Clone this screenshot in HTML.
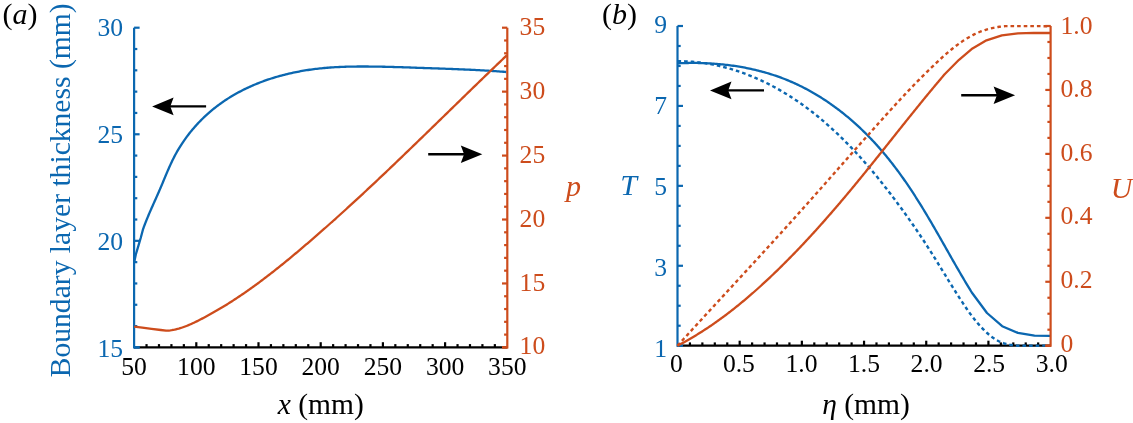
<!DOCTYPE html>
<html><head><meta charset="utf-8"><style>
html,body{margin:0;padding:0;background:#fff;width:1133px;height:423px;overflow:hidden}
svg{display:block;font-family:"Liberation Serif",serif;will-change:transform}
</style></head><body>
<svg width="1133" height="423" viewBox="0 0 1133 423">
<rect width="1133" height="423" fill="#fff"/>
<line x1="146.54" y1="347.40" x2="146.54" y2="344.10" stroke="#000" stroke-width="2.2"/>
<line x1="158.98" y1="347.40" x2="158.98" y2="344.10" stroke="#000" stroke-width="2.2"/>
<line x1="171.42" y1="347.40" x2="171.42" y2="344.10" stroke="#000" stroke-width="2.2"/>
<line x1="183.86" y1="347.40" x2="183.86" y2="344.10" stroke="#000" stroke-width="2.2"/>
<line x1="196.30" y1="347.40" x2="196.30" y2="342.20" stroke="#000" stroke-width="2.2"/>
<line x1="208.74" y1="347.40" x2="208.74" y2="344.10" stroke="#000" stroke-width="2.2"/>
<line x1="221.18" y1="347.40" x2="221.18" y2="344.10" stroke="#000" stroke-width="2.2"/>
<line x1="233.62" y1="347.40" x2="233.62" y2="344.10" stroke="#000" stroke-width="2.2"/>
<line x1="246.06" y1="347.40" x2="246.06" y2="344.10" stroke="#000" stroke-width="2.2"/>
<line x1="258.50" y1="347.40" x2="258.50" y2="342.20" stroke="#000" stroke-width="2.2"/>
<line x1="270.94" y1="347.40" x2="270.94" y2="344.10" stroke="#000" stroke-width="2.2"/>
<line x1="283.38" y1="347.40" x2="283.38" y2="344.10" stroke="#000" stroke-width="2.2"/>
<line x1="295.82" y1="347.40" x2="295.82" y2="344.10" stroke="#000" stroke-width="2.2"/>
<line x1="308.26" y1="347.40" x2="308.26" y2="344.10" stroke="#000" stroke-width="2.2"/>
<line x1="320.70" y1="347.40" x2="320.70" y2="342.20" stroke="#000" stroke-width="2.2"/>
<line x1="333.14" y1="347.40" x2="333.14" y2="344.10" stroke="#000" stroke-width="2.2"/>
<line x1="345.58" y1="347.40" x2="345.58" y2="344.10" stroke="#000" stroke-width="2.2"/>
<line x1="358.02" y1="347.40" x2="358.02" y2="344.10" stroke="#000" stroke-width="2.2"/>
<line x1="370.46" y1="347.40" x2="370.46" y2="344.10" stroke="#000" stroke-width="2.2"/>
<line x1="382.90" y1="347.40" x2="382.90" y2="342.20" stroke="#000" stroke-width="2.2"/>
<line x1="395.34" y1="347.40" x2="395.34" y2="344.10" stroke="#000" stroke-width="2.2"/>
<line x1="407.78" y1="347.40" x2="407.78" y2="344.10" stroke="#000" stroke-width="2.2"/>
<line x1="420.22" y1="347.40" x2="420.22" y2="344.10" stroke="#000" stroke-width="2.2"/>
<line x1="432.66" y1="347.40" x2="432.66" y2="344.10" stroke="#000" stroke-width="2.2"/>
<line x1="445.10" y1="347.40" x2="445.10" y2="342.20" stroke="#000" stroke-width="2.2"/>
<line x1="457.54" y1="347.40" x2="457.54" y2="344.10" stroke="#000" stroke-width="2.2"/>
<line x1="469.98" y1="347.40" x2="469.98" y2="344.10" stroke="#000" stroke-width="2.2"/>
<line x1="482.42" y1="347.40" x2="482.42" y2="344.10" stroke="#000" stroke-width="2.2"/>
<line x1="494.86" y1="347.40" x2="494.86" y2="344.10" stroke="#000" stroke-width="2.2"/>
<line x1="134.10" y1="347.40" x2="507.30" y2="347.40" stroke="#000" stroke-width="2.2"/>
<line x1="689.94" y1="345.70" x2="689.94" y2="342.40" stroke="#000" stroke-width="2.2"/>
<line x1="702.37" y1="345.70" x2="702.37" y2="342.40" stroke="#000" stroke-width="2.2"/>
<line x1="714.81" y1="345.70" x2="714.81" y2="342.40" stroke="#000" stroke-width="2.2"/>
<line x1="727.25" y1="345.70" x2="727.25" y2="342.40" stroke="#000" stroke-width="2.2"/>
<line x1="739.68" y1="345.70" x2="739.68" y2="340.70" stroke="#000" stroke-width="2.2"/>
<line x1="752.12" y1="345.70" x2="752.12" y2="342.40" stroke="#000" stroke-width="2.2"/>
<line x1="764.56" y1="345.70" x2="764.56" y2="342.40" stroke="#000" stroke-width="2.2"/>
<line x1="776.99" y1="345.70" x2="776.99" y2="342.40" stroke="#000" stroke-width="2.2"/>
<line x1="789.43" y1="345.70" x2="789.43" y2="342.40" stroke="#000" stroke-width="2.2"/>
<line x1="801.87" y1="345.70" x2="801.87" y2="340.70" stroke="#000" stroke-width="2.2"/>
<line x1="814.30" y1="345.70" x2="814.30" y2="342.40" stroke="#000" stroke-width="2.2"/>
<line x1="826.74" y1="345.70" x2="826.74" y2="342.40" stroke="#000" stroke-width="2.2"/>
<line x1="839.18" y1="345.70" x2="839.18" y2="342.40" stroke="#000" stroke-width="2.2"/>
<line x1="851.61" y1="345.70" x2="851.61" y2="342.40" stroke="#000" stroke-width="2.2"/>
<line x1="864.05" y1="345.70" x2="864.05" y2="340.70" stroke="#000" stroke-width="2.2"/>
<line x1="876.49" y1="345.70" x2="876.49" y2="342.40" stroke="#000" stroke-width="2.2"/>
<line x1="888.92" y1="345.70" x2="888.92" y2="342.40" stroke="#000" stroke-width="2.2"/>
<line x1="901.36" y1="345.70" x2="901.36" y2="342.40" stroke="#000" stroke-width="2.2"/>
<line x1="913.80" y1="345.70" x2="913.80" y2="342.40" stroke="#000" stroke-width="2.2"/>
<line x1="926.23" y1="345.70" x2="926.23" y2="340.70" stroke="#000" stroke-width="2.2"/>
<line x1="938.67" y1="345.70" x2="938.67" y2="342.40" stroke="#000" stroke-width="2.2"/>
<line x1="951.11" y1="345.70" x2="951.11" y2="342.40" stroke="#000" stroke-width="2.2"/>
<line x1="963.54" y1="345.70" x2="963.54" y2="342.40" stroke="#000" stroke-width="2.2"/>
<line x1="975.98" y1="345.70" x2="975.98" y2="342.40" stroke="#000" stroke-width="2.2"/>
<line x1="988.42" y1="345.70" x2="988.42" y2="340.70" stroke="#000" stroke-width="2.2"/>
<line x1="1000.85" y1="345.70" x2="1000.85" y2="342.40" stroke="#000" stroke-width="2.2"/>
<line x1="1013.29" y1="345.70" x2="1013.29" y2="342.40" stroke="#000" stroke-width="2.2"/>
<line x1="1025.73" y1="345.70" x2="1025.73" y2="342.40" stroke="#000" stroke-width="2.2"/>
<line x1="1038.16" y1="345.70" x2="1038.16" y2="342.40" stroke="#000" stroke-width="2.2"/>
<line x1="677.50" y1="345.70" x2="1050.60" y2="345.70" stroke="#000" stroke-width="2.2"/>
<line x1="134.10" y1="347.40" x2="139.60" y2="347.40" stroke="#0b67b0" stroke-width="2.2"/>
<line x1="134.10" y1="326.09" x2="137.30" y2="326.09" stroke="#0b67b0" stroke-width="2.2"/>
<line x1="134.10" y1="304.77" x2="137.30" y2="304.77" stroke="#0b67b0" stroke-width="2.2"/>
<line x1="134.10" y1="283.46" x2="137.30" y2="283.46" stroke="#0b67b0" stroke-width="2.2"/>
<line x1="134.10" y1="262.15" x2="137.30" y2="262.15" stroke="#0b67b0" stroke-width="2.2"/>
<line x1="134.10" y1="240.83" x2="139.60" y2="240.83" stroke="#0b67b0" stroke-width="2.2"/>
<line x1="134.10" y1="219.52" x2="137.30" y2="219.52" stroke="#0b67b0" stroke-width="2.2"/>
<line x1="134.10" y1="198.21" x2="137.30" y2="198.21" stroke="#0b67b0" stroke-width="2.2"/>
<line x1="134.10" y1="176.89" x2="137.30" y2="176.89" stroke="#0b67b0" stroke-width="2.2"/>
<line x1="134.10" y1="155.58" x2="137.30" y2="155.58" stroke="#0b67b0" stroke-width="2.2"/>
<line x1="134.10" y1="134.27" x2="139.60" y2="134.27" stroke="#0b67b0" stroke-width="2.2"/>
<line x1="134.10" y1="112.95" x2="137.30" y2="112.95" stroke="#0b67b0" stroke-width="2.2"/>
<line x1="134.10" y1="91.64" x2="137.30" y2="91.64" stroke="#0b67b0" stroke-width="2.2"/>
<line x1="134.10" y1="70.33" x2="137.30" y2="70.33" stroke="#0b67b0" stroke-width="2.2"/>
<line x1="134.10" y1="49.01" x2="137.30" y2="49.01" stroke="#0b67b0" stroke-width="2.2"/>
<line x1="134.10" y1="27.70" x2="139.60" y2="27.70" stroke="#0b67b0" stroke-width="2.2"/>
<line x1="134.10" y1="27.70" x2="134.10" y2="348.50" stroke="#0b67b0" stroke-width="2.2"/>
<line x1="134.10" y1="347.40" x2="139.60" y2="347.40" stroke="#0b67b0" stroke-width="2.2"/>
<line x1="677.50" y1="345.70" x2="683.00" y2="345.70" stroke="#0b67b0" stroke-width="2.2"/>
<line x1="677.50" y1="325.72" x2="680.70" y2="325.72" stroke="#0b67b0" stroke-width="2.2"/>
<line x1="677.50" y1="305.74" x2="680.70" y2="305.74" stroke="#0b67b0" stroke-width="2.2"/>
<line x1="677.50" y1="285.76" x2="680.70" y2="285.76" stroke="#0b67b0" stroke-width="2.2"/>
<line x1="677.50" y1="265.77" x2="683.00" y2="265.77" stroke="#0b67b0" stroke-width="2.2"/>
<line x1="677.50" y1="245.79" x2="680.70" y2="245.79" stroke="#0b67b0" stroke-width="2.2"/>
<line x1="677.50" y1="225.81" x2="680.70" y2="225.81" stroke="#0b67b0" stroke-width="2.2"/>
<line x1="677.50" y1="205.83" x2="680.70" y2="205.83" stroke="#0b67b0" stroke-width="2.2"/>
<line x1="677.50" y1="185.85" x2="683.00" y2="185.85" stroke="#0b67b0" stroke-width="2.2"/>
<line x1="677.50" y1="165.87" x2="680.70" y2="165.87" stroke="#0b67b0" stroke-width="2.2"/>
<line x1="677.50" y1="145.89" x2="680.70" y2="145.89" stroke="#0b67b0" stroke-width="2.2"/>
<line x1="677.50" y1="125.91" x2="680.70" y2="125.91" stroke="#0b67b0" stroke-width="2.2"/>
<line x1="677.50" y1="105.93" x2="683.00" y2="105.93" stroke="#0b67b0" stroke-width="2.2"/>
<line x1="677.50" y1="85.94" x2="680.70" y2="85.94" stroke="#0b67b0" stroke-width="2.2"/>
<line x1="677.50" y1="65.96" x2="680.70" y2="65.96" stroke="#0b67b0" stroke-width="2.2"/>
<line x1="677.50" y1="45.98" x2="680.70" y2="45.98" stroke="#0b67b0" stroke-width="2.2"/>
<line x1="677.50" y1="26.00" x2="683.00" y2="26.00" stroke="#0b67b0" stroke-width="2.2"/>
<line x1="677.50" y1="26.00" x2="677.50" y2="346.80" stroke="#0b67b0" stroke-width="2.2"/>
<line x1="677.50" y1="345.70" x2="683.00" y2="345.70" stroke="#0b67b0" stroke-width="2.2"/>
<path d="M134.20,262.30 L135.80,254.50 L138.30,246.20 L140.70,238.00 L142.90,229.70 L143.37,228.33 L143.86,226.97 L144.36,225.60 L144.88,224.23 L145.41,222.85 L145.95,221.48 L146.50,220.10 L147.06,218.71 L147.64,217.33 L148.22,215.94 L148.80,214.55 L149.40,213.16 L150.00,211.77 L150.61,210.37 L151.22,208.98 L151.84,207.58 L152.46,206.18 L153.08,204.78 L153.70,203.38 L154.33,201.98 L154.96,200.58 L155.58,199.18 L156.21,197.78 L156.83,196.38 L157.45,194.98 L158.07,193.58 L158.68,192.18 L159.29,190.79 L159.89,189.39 L160.49,187.99 L161.08,186.60 L161.67,185.21 L162.25,183.82 L162.84,182.43 L163.41,181.04 L163.99,179.66 L164.57,178.28 L165.14,176.90 L165.72,175.52 L166.30,174.15 L166.88,172.78 L167.47,171.41 L168.06,170.05 L168.65,168.69 L169.25,167.33 L169.86,165.98 L170.47,164.63 L171.10,163.29 L171.73,161.95 L172.37,160.62 L173.02,159.29 L173.68,157.96 L174.36,156.65 L175.04,155.33 L175.75,154.02 L176.46,152.72 L177.19,151.43 L177.94,150.14 L178.70,148.85 L179.47,147.57 L180.26,146.30 L181.07,145.04 L181.88,143.78 L182.71,142.53 L183.56,141.29 L184.41,140.05 L185.29,138.83 L186.17,137.61 L187.07,136.39 L187.98,135.19 L188.90,134.00 L189.83,132.81 L190.78,131.63 L191.74,130.46 L192.71,129.30 L193.69,128.15 L194.68,127.01 L195.69,125.88 L196.71,124.75 L197.73,123.64 L198.77,122.54 L199.82,121.45 L200.88,120.36 L201.95,119.29 L203.03,118.23 L204.12,117.18 L205.22,116.14 L206.33,115.12 L207.45,114.10 L208.58,113.10 L209.71,112.10 L210.86,111.12 L212.02,110.15 L213.18,109.20 L214.35,108.25 L215.53,107.32 L216.72,106.40 L217.92,105.50 L219.13,104.60 L220.34,103.72 L221.56,102.84 L222.79,101.98 L224.03,101.14 L225.27,100.30 L226.52,99.48 L227.78,98.66 L229.05,97.86 L230.32,97.07 L231.60,96.30 L232.89,95.53 L234.18,94.77 L235.48,94.03 L236.79,93.30 L238.10,92.58 L239.42,91.87 L240.75,91.17 L242.08,90.48 L243.42,89.81 L244.76,89.14 L246.11,88.49 L247.47,87.84 L248.83,87.21 L250.20,86.59 L251.57,85.98 L252.94,85.38 L254.33,84.79 L255.71,84.21 L257.11,83.64 L258.50,83.08 L259.90,82.53 L261.31,82.00 L262.72,81.47 L264.13,80.95 L265.55,80.45 L266.97,79.95 L268.40,79.46 L269.83,78.99 L271.27,78.52 L272.70,78.07 L274.15,77.62 L275.59,77.18 L277.04,76.76 L278.49,76.34 L279.94,75.93 L281.40,75.54 L282.86,75.15 L284.33,74.77 L285.79,74.40 L287.26,74.04 L288.73,73.70 L290.20,73.36 L291.68,73.02 L293.16,72.70 L294.64,72.39 L296.12,72.09 L297.60,71.79 L299.08,71.51 L300.57,71.23 L302.06,70.97 L303.55,70.71 L305.04,70.46 L306.53,70.22 L308.02,69.99 L309.51,69.76 L311.01,69.55 L312.50,69.34 L314.00,69.15 L315.49,68.96 L316.99,68.78 L318.48,68.61 L319.98,68.44 L321.48,68.29 L322.97,68.14 L324.47,68.00 L325.97,67.87 L327.46,67.74 L328.96,67.62 L330.46,67.51 L331.96,67.41 L333.46,67.31 L334.95,67.22 L336.45,67.13 L337.95,67.05 L339.45,66.98 L340.95,66.91 L342.45,66.85 L343.95,66.80 L345.45,66.75 L346.95,66.70 L348.45,66.66 L349.95,66.62 L351.45,66.59 L352.95,66.57 L354.46,66.55 L355.96,66.53 L357.46,66.51 L358.96,66.50 L360.46,66.50 L361.96,66.49 L363.47,66.50 L364.97,66.50 L366.47,66.51 L367.97,66.52 L369.48,66.53 L370.98,66.54 L372.48,66.56 L373.99,66.58 L375.49,66.60 L376.99,66.62 L378.50,66.65 L380.00,66.68 L381.50,66.71 L383.01,66.74 L384.51,66.77 L386.01,66.80 L387.52,66.84 L389.02,66.88 L390.53,66.92 L392.03,66.96 L393.54,67.00 L395.04,67.04 L396.55,67.08 L398.05,67.13 L399.55,67.18 L401.06,67.22 L402.56,67.27 L404.07,67.32 L405.57,67.37 L407.08,67.42 L408.58,67.47 L410.09,67.52 L411.59,67.57 L413.10,67.62 L414.60,67.68 L416.11,67.73 L417.61,67.78 L419.12,67.83 L420.62,67.89 L422.13,67.94 L423.64,67.99 L425.14,68.04 L426.65,68.10 L428.15,68.15 L429.66,68.20 L431.16,68.25 L432.67,68.30 L434.17,68.36 L435.68,68.41 L437.18,68.46 L438.69,68.51 L440.19,68.56 L441.70,68.62 L443.20,68.67 L444.70,68.72 L446.21,68.78 L447.71,68.83 L449.22,68.89 L450.72,68.94 L452.23,69.00 L453.73,69.06 L455.24,69.12 L456.74,69.17 L458.24,69.23 L459.75,69.30 L461.25,69.36 L462.76,69.42 L464.26,69.49 L465.76,69.55 L467.27,69.62 L468.77,69.69 L470.27,69.76 L471.78,69.83 L473.28,69.90 L474.78,69.97 L476.28,70.05 L477.79,70.13 L479.29,70.21 L480.79,70.29 L482.29,70.37 L483.79,70.46 L485.30,70.54 L486.80,70.63 L488.30,70.72 L489.80,70.82 L491.30,70.91 L492.80,71.01 L494.30,71.11 L495.80,71.21 L497.30,71.31 L498.80,71.42 L500.30,71.53 L501.80,71.64 L503.30,71.76 L504.80,71.88 L506.30,72.00" fill="none" stroke="#0b67b0" stroke-width="2.3" stroke-linejoin="round"/>
<path d="M677.50,61.20 L679.01,61.20 L680.51,61.21 L682.02,61.23 L683.52,61.27 L685.02,61.33 L686.53,61.39 L688.03,61.47 L689.52,61.56 L691.02,61.66 L692.52,61.78 L694.01,61.91 L695.50,62.05 L696.99,62.20 L698.48,62.37 L699.97,62.55 L701.45,62.74 L702.94,62.94 L704.42,63.15 L705.90,63.38 L707.38,63.62 L708.85,63.87 L710.33,64.13 L711.80,64.40 L713.27,64.69 L714.73,64.98 L716.20,65.29 L717.66,65.61 L719.12,65.94 L720.58,66.28 L722.03,66.63 L723.48,66.99 L724.93,67.37 L726.38,67.75 L727.83,68.15 L729.27,68.55 L730.71,68.97 L732.14,69.40 L733.58,69.83 L735.01,70.28 L736.43,70.74 L737.86,71.21 L739.28,71.69 L740.70,72.17 L742.11,72.67 L743.53,73.18 L744.93,73.70 L746.34,74.23 L747.74,74.77 L749.14,75.31 L750.53,75.87 L751.93,76.44 L753.31,77.01 L754.70,77.60 L756.08,78.19 L757.46,78.79 L758.83,79.41 L760.20,80.03 L761.57,80.66 L762.93,81.30 L764.29,81.95 L765.64,82.60 L766.99,83.27 L768.34,83.94 L769.68,84.62 L771.02,85.31 L772.35,86.01 L773.68,86.72 L775.00,87.43 L776.33,88.16 L777.64,88.89 L778.95,89.63 L780.26,90.37 L781.56,91.13 L782.86,91.89 L784.15,92.66 L785.44,93.44 L786.73,94.22 L788.01,95.01 L789.28,95.81 L790.55,96.62 L791.81,97.43 L793.07,98.25 L794.33,99.08 L795.58,99.92 L796.83,100.76 L798.07,101.61 L799.30,102.46 L800.54,103.32 L801.76,104.19 L802.98,105.07 L804.20,105.95 L805.42,106.83 L806.62,107.73 L807.83,108.63 L809.03,109.53 L810.22,110.44 L811.41,111.36 L812.60,112.28 L813.78,113.21 L814.95,114.15 L816.13,115.09 L817.29,116.03 L818.46,116.98 L819.62,117.94 L820.77,118.90 L821.92,119.87 L823.06,120.84 L824.20,121.82 L825.34,122.80 L826.47,123.79 L827.60,124.78 L828.72,125.78 L829.84,126.78 L830.96,127.78 L832.07,128.79 L833.17,129.81 L834.28,130.83 L835.37,131.85 L836.47,132.88 L837.56,133.91 L838.64,134.95 L839.72,135.99 L840.80,137.03 L841.87,138.08 L842.94,139.13 L844.00,140.18 L845.06,141.24 L846.12,142.30 L847.17,143.37 L848.22,144.44 L849.26,145.51 L850.30,146.59 L851.34,147.67 L852.37,148.75 L853.40,149.84 L854.42,150.93 L855.44,152.02 L856.46,153.12 L857.47,154.22 L858.48,155.32 L859.49,156.43 L860.49,157.54 L861.49,158.65 L862.49,159.77 L863.48,160.88 L864.47,162.01 L865.46,163.13 L866.44,164.26 L867.42,165.39 L868.40,166.52 L869.37,167.66 L870.34,168.80 L871.31,169.94 L872.27,171.09 L873.23,172.24 L874.19,173.39 L875.15,174.54 L876.10,175.70 L877.05,176.86 L878.00,178.02 L878.94,179.18 L879.88,180.35 L880.82,181.52 L881.76,182.69 L882.69,183.86 L883.62,185.04 L884.55,186.22 L885.48,187.40 L886.40,188.58 L887.32,189.77 L888.24,190.96 L889.16,192.15 L890.08,193.34 L890.99,194.54 L891.90,195.74 L892.81,196.93 L893.71,198.14 L894.62,199.34 L895.52,200.55 L896.42,201.75 L897.32,202.96 L898.22,204.17 L899.11,205.39 L900.00,206.60 L900.89,207.82 L901.78,209.04 L902.67,210.26 L903.55,211.48 L904.44,212.71 L905.32,213.93 L906.19,215.16 L907.07,216.39 L907.94,217.62 L908.81,218.85 L909.68,220.09 L910.55,221.32 L911.41,222.56 L912.27,223.80 L913.13,225.04 L913.99,226.28 L914.84,227.52 L915.69,228.77 L916.54,230.01 L917.39,231.26 L918.23,232.51 L919.07,233.76 L919.91,235.01 L920.75,236.26 L921.58,237.51 L922.41,238.76 L923.23,240.02 L924.06,241.28 L924.88,242.53 L925.70,243.79 L926.51,245.05 L927.33,246.31 L928.13,247.57 L928.94,248.83 L929.74,250.09 L930.54,251.36 L931.34,252.62 L932.14,253.88 L932.93,255.15 L933.72,256.41 L934.51,257.68 L935.30,258.95 L936.08,260.21 L936.87,261.48 L937.65,262.75 L938.43,264.02 L939.21,265.29 L939.99,266.56 L940.77,267.83 L941.55,269.10 L942.33,270.37 L943.11,271.64 L943.88,272.91 L944.66,274.19 L945.44,275.46 L946.22,276.73 L947.00,278.00 L947.79,279.27 L948.57,280.55 L949.36,281.82 L950.14,283.09 L950.93,284.36 L951.72,285.64 L952.51,286.91 L953.31,288.18 L954.10,289.45 L954.90,290.73 L955.71,292.00 L956.51,293.27 L957.32,294.54 L958.13,295.81 L958.95,297.08 L959.77,298.35 L960.59,299.62 L961.42,300.89 L962.25,302.16 L963.08,303.43 L963.93,304.69 L964.77,305.95 L965.63,307.21 L966.49,308.46 L967.36,309.71 L968.23,310.96 L969.11,312.20 L970.00,313.43 L970.91,314.65 L971.81,315.87 L972.73,317.08 L973.66,318.28 L974.60,319.46 L975.56,320.64 L976.52,321.81 L977.49,322.97 L978.48,324.11 L979.48,325.25 L980.49,326.36 L981.52,327.47 L982.56,328.56 L983.61,329.63 L984.68,330.69 L985.77,331.73 L986.87,332.76 L987.99,333.75 L989.12,334.73 L990.27,335.67 L991.44,336.58 L992.63,337.46 L993.84,338.30 L995.06,339.10 L996.30,339.85 L997.57,340.56 L998.85,341.22 L1000.16,341.83 L1001.48,342.39 L1002.83,342.89 L1004.19,343.35 L1005.57,343.77 L1006.97,344.13 L1008.38,344.46 L1009.81,344.75 L1011.25,345.00 L1012.70,345.22 L1014.17,345.40 L1015.65,345.55 L1017.14,345.68 L1018.63,345.70 L1020.14,345.70 L1021.65,345.70 L1023.17,345.70 L1024.70,345.70 L1026.23,345.70 L1027.76,345.70 L1029.30,345.70 L1030.84,345.70 L1032.38,345.70 L1033.92,345.70 L1035.46,345.70 L1036.99,345.70 L1038.53,345.69 L1040.06,345.65 L1041.59,345.62 L1043.11,345.60 L1044.62,345.59 L1046.13,345.59 L1047.63,345.61 L1049.12,345.64 L1050.60,345.70" fill="none" stroke="#0b67b0" stroke-width="2.4" stroke-linejoin="round" stroke-dasharray="3.6 3.0"/>
<path d="M677.49,63.31 L679.00,63.24 L680.51,63.18 L682.03,63.12 L683.54,63.08 L685.05,63.04 L686.56,63.00 L688.07,62.98 L689.59,62.96 L691.10,62.95 L692.61,62.94 L694.12,62.94 L695.64,62.96 L697.15,62.97 L698.66,63.00 L700.18,63.03 L701.69,63.07 L703.20,63.12 L704.71,63.18 L706.22,63.24 L707.73,63.31 L709.24,63.39 L710.75,63.48 L712.26,63.57 L713.76,63.67 L715.27,63.79 L716.78,63.90 L718.28,64.03 L719.78,64.17 L721.29,64.31 L722.79,64.46 L724.29,64.62 L725.79,64.79 L727.28,64.96 L728.78,65.15 L730.27,65.34 L731.76,65.54 L733.25,65.75 L734.74,65.97 L736.23,66.19 L737.71,66.43 L739.20,66.67 L740.68,66.93 L742.16,67.19 L743.64,67.46 L745.11,67.74 L746.58,68.02 L748.05,68.32 L749.52,68.62 L750.99,68.94 L752.45,69.26 L753.91,69.60 L755.37,69.94 L756.82,70.29 L758.27,70.65 L759.72,71.02 L761.17,71.40 L762.61,71.78 L764.05,72.18 L765.49,72.59 L766.92,73.00 L768.35,73.43 L769.78,73.86 L771.20,74.31 L772.62,74.76 L774.04,75.23 L775.46,75.70 L776.87,76.18 L778.27,76.68 L779.67,77.18 L781.07,77.69 L782.47,78.22 L783.86,78.75 L785.24,79.29 L786.63,79.85 L788.00,80.41 L789.38,80.98 L790.75,81.57 L792.11,82.16 L793.48,82.76 L794.83,83.37 L796.19,84.00 L797.53,84.63 L798.88,85.27 L800.22,85.92 L801.55,86.58 L802.88,87.25 L804.21,87.93 L805.53,88.62 L806.85,89.32 L808.16,90.02 L809.47,90.74 L810.77,91.46 L812.07,92.20 L813.37,92.94 L814.66,93.69 L815.94,94.45 L817.22,95.22 L818.50,95.99 L819.77,96.78 L821.04,97.57 L822.30,98.37 L823.56,99.18 L824.81,100.00 L826.06,100.82 L827.30,101.66 L828.54,102.50 L829.77,103.35 L831.00,104.20 L832.22,105.07 L833.44,105.94 L834.65,106.82 L835.86,107.71 L837.06,108.60 L838.26,109.51 L839.45,110.41 L840.64,111.33 L841.82,112.25 L843.00,113.18 L844.17,114.12 L845.33,115.07 L846.50,116.02 L847.65,116.98 L848.80,117.94 L849.95,118.91 L851.09,119.89 L852.22,120.87 L853.35,121.86 L854.48,122.86 L855.60,123.86 L856.71,124.87 L857.82,125.89 L858.92,126.91 L860.02,127.94 L861.11,128.97 L862.19,130.01 L863.27,131.05 L864.35,132.10 L865.42,133.16 L866.48,134.22 L867.54,135.29 L868.59,136.36 L869.64,137.44 L870.68,138.52 L871.71,139.61 L872.74,140.70 L873.77,141.80 L874.78,142.90 L875.80,144.01 L876.81,145.13 L877.81,146.24 L878.80,147.37 L879.80,148.49 L880.78,149.63 L881.76,150.76 L882.74,151.90 L883.71,153.05 L884.67,154.20 L885.63,155.35 L886.59,156.51 L887.54,157.67 L888.48,158.84 L889.42,160.01 L890.36,161.19 L891.29,162.37 L892.21,163.55 L893.14,164.74 L894.05,165.93 L894.96,167.12 L895.87,168.32 L896.77,169.52 L897.66,170.73 L898.56,171.93 L899.44,173.15 L900.33,174.36 L901.20,175.58 L902.08,176.80 L902.95,178.03 L903.81,179.26 L904.68,180.49 L905.53,181.72 L906.39,182.96 L907.24,184.20 L908.08,185.44 L908.92,186.69 L909.76,187.94 L910.59,189.19 L911.43,190.44 L912.25,191.70 L913.08,192.96 L913.90,194.22 L914.71,195.48 L915.53,196.75 L916.34,198.02 L917.14,199.29 L917.95,200.56 L918.75,201.83 L919.55,203.11 L920.34,204.39 L921.13,205.67 L921.92,206.95 L922.71,208.23 L923.50,209.52 L924.28,210.80 L925.06,212.09 L925.83,213.38 L926.61,214.67 L927.38,215.97 L928.15,217.26 L928.92,218.56 L929.68,219.85 L930.45,221.15 L931.21,222.45 L931.97,223.75 L932.73,225.05 L933.48,226.35 L934.24,227.65 L934.99,228.96 L935.74,230.26 L936.50,231.57 L937.24,232.87 L937.99,234.18 L938.74,235.48 L939.49,236.79 L940.23,238.10 L940.98,239.40 L941.72,240.71 L942.46,242.02 L943.21,243.33 L943.95,244.63 L944.69,245.94 L945.43,247.25 L946.17,248.56 L946.91,249.86 L947.65,251.17 L948.40,252.48 L949.14,253.78 L949.88,255.09 L950.62,256.40 L951.36,257.70 L952.10,259.00 L952.84,260.31 L953.59,261.61 L954.33,262.91 L955.08,264.21 L955.82,265.51 L956.57,266.81 L957.31,268.11 L958.06,269.41 L958.81,270.70 L959.56,272.00 L960.31,273.29 L961.06,274.58 L961.82,275.88 L962.58,277.16 L963.33,278.45 L964.09,279.74 L964.85,281.02 L965.62,282.31 L966.38,283.59 L967.15,284.87 L967.92,286.14 L968.69,287.42 L969.46,288.69 L970.24,289.96 L971.01,291.23 L971.80,292.50 L987.00,313.00 L1002.20,326.20 L1017.90,332.90 L1034.50,335.70 L1050.60,335.90" fill="none" stroke="#0b67b0" stroke-width="2.3" stroke-linejoin="round"/>
<line x1="507.30" y1="347.40" x2="502.00" y2="347.40" stroke="#cd4c1c" stroke-width="2.2"/>
<line x1="507.30" y1="334.61" x2="504.10" y2="334.61" stroke="#cd4c1c" stroke-width="2.2"/>
<line x1="507.30" y1="321.82" x2="504.10" y2="321.82" stroke="#cd4c1c" stroke-width="2.2"/>
<line x1="507.30" y1="309.04" x2="504.10" y2="309.04" stroke="#cd4c1c" stroke-width="2.2"/>
<line x1="507.30" y1="296.25" x2="504.10" y2="296.25" stroke="#cd4c1c" stroke-width="2.2"/>
<line x1="507.30" y1="283.46" x2="502.00" y2="283.46" stroke="#cd4c1c" stroke-width="2.2"/>
<line x1="507.30" y1="270.67" x2="504.10" y2="270.67" stroke="#cd4c1c" stroke-width="2.2"/>
<line x1="507.30" y1="257.88" x2="504.10" y2="257.88" stroke="#cd4c1c" stroke-width="2.2"/>
<line x1="507.30" y1="245.10" x2="504.10" y2="245.10" stroke="#cd4c1c" stroke-width="2.2"/>
<line x1="507.30" y1="232.31" x2="504.10" y2="232.31" stroke="#cd4c1c" stroke-width="2.2"/>
<line x1="507.30" y1="219.52" x2="502.00" y2="219.52" stroke="#cd4c1c" stroke-width="2.2"/>
<line x1="507.30" y1="206.73" x2="504.10" y2="206.73" stroke="#cd4c1c" stroke-width="2.2"/>
<line x1="507.30" y1="193.94" x2="504.10" y2="193.94" stroke="#cd4c1c" stroke-width="2.2"/>
<line x1="507.30" y1="181.16" x2="504.10" y2="181.16" stroke="#cd4c1c" stroke-width="2.2"/>
<line x1="507.30" y1="168.37" x2="504.10" y2="168.37" stroke="#cd4c1c" stroke-width="2.2"/>
<line x1="507.30" y1="155.58" x2="502.00" y2="155.58" stroke="#cd4c1c" stroke-width="2.2"/>
<line x1="507.30" y1="142.79" x2="504.10" y2="142.79" stroke="#cd4c1c" stroke-width="2.2"/>
<line x1="507.30" y1="130.00" x2="504.10" y2="130.00" stroke="#cd4c1c" stroke-width="2.2"/>
<line x1="507.30" y1="117.22" x2="504.10" y2="117.22" stroke="#cd4c1c" stroke-width="2.2"/>
<line x1="507.30" y1="104.43" x2="504.10" y2="104.43" stroke="#cd4c1c" stroke-width="2.2"/>
<line x1="507.30" y1="91.64" x2="502.00" y2="91.64" stroke="#cd4c1c" stroke-width="2.2"/>
<line x1="507.30" y1="78.85" x2="504.10" y2="78.85" stroke="#cd4c1c" stroke-width="2.2"/>
<line x1="507.30" y1="66.06" x2="504.10" y2="66.06" stroke="#cd4c1c" stroke-width="2.2"/>
<line x1="507.30" y1="53.28" x2="504.10" y2="53.28" stroke="#cd4c1c" stroke-width="2.2"/>
<line x1="507.30" y1="40.49" x2="504.10" y2="40.49" stroke="#cd4c1c" stroke-width="2.2"/>
<line x1="507.30" y1="27.70" x2="502.00" y2="27.70" stroke="#cd4c1c" stroke-width="2.2"/>
<line x1="507.30" y1="27.70" x2="507.30" y2="348.50" stroke="#cd4c1c" stroke-width="2.2"/>
<line x1="507.30" y1="347.40" x2="502.00" y2="347.40" stroke="#cd4c1c" stroke-width="2.2"/>
<line x1="1050.60" y1="345.70" x2="1045.30" y2="345.70" stroke="#cd4c1c" stroke-width="2.2"/>
<line x1="1050.60" y1="329.71" x2="1047.40" y2="329.71" stroke="#cd4c1c" stroke-width="2.2"/>
<line x1="1050.60" y1="313.73" x2="1047.40" y2="313.73" stroke="#cd4c1c" stroke-width="2.2"/>
<line x1="1050.60" y1="297.75" x2="1047.40" y2="297.75" stroke="#cd4c1c" stroke-width="2.2"/>
<line x1="1050.60" y1="281.76" x2="1045.30" y2="281.76" stroke="#cd4c1c" stroke-width="2.2"/>
<line x1="1050.60" y1="265.77" x2="1047.40" y2="265.77" stroke="#cd4c1c" stroke-width="2.2"/>
<line x1="1050.60" y1="249.79" x2="1047.40" y2="249.79" stroke="#cd4c1c" stroke-width="2.2"/>
<line x1="1050.60" y1="233.80" x2="1047.40" y2="233.80" stroke="#cd4c1c" stroke-width="2.2"/>
<line x1="1050.60" y1="217.82" x2="1045.30" y2="217.82" stroke="#cd4c1c" stroke-width="2.2"/>
<line x1="1050.60" y1="201.83" x2="1047.40" y2="201.83" stroke="#cd4c1c" stroke-width="2.2"/>
<line x1="1050.60" y1="185.85" x2="1047.40" y2="185.85" stroke="#cd4c1c" stroke-width="2.2"/>
<line x1="1050.60" y1="169.86" x2="1047.40" y2="169.86" stroke="#cd4c1c" stroke-width="2.2"/>
<line x1="1050.60" y1="153.88" x2="1045.30" y2="153.88" stroke="#cd4c1c" stroke-width="2.2"/>
<line x1="1050.60" y1="137.89" x2="1047.40" y2="137.89" stroke="#cd4c1c" stroke-width="2.2"/>
<line x1="1050.60" y1="121.91" x2="1047.40" y2="121.91" stroke="#cd4c1c" stroke-width="2.2"/>
<line x1="1050.60" y1="105.93" x2="1047.40" y2="105.93" stroke="#cd4c1c" stroke-width="2.2"/>
<line x1="1050.60" y1="89.94" x2="1045.30" y2="89.94" stroke="#cd4c1c" stroke-width="2.2"/>
<line x1="1050.60" y1="73.95" x2="1047.40" y2="73.95" stroke="#cd4c1c" stroke-width="2.2"/>
<line x1="1050.60" y1="57.97" x2="1047.40" y2="57.97" stroke="#cd4c1c" stroke-width="2.2"/>
<line x1="1050.60" y1="41.98" x2="1047.40" y2="41.98" stroke="#cd4c1c" stroke-width="2.2"/>
<line x1="1050.60" y1="26.00" x2="1045.30" y2="26.00" stroke="#cd4c1c" stroke-width="2.2"/>
<line x1="1050.60" y1="26.00" x2="1050.60" y2="346.80" stroke="#cd4c1c" stroke-width="2.2"/>
<line x1="1050.60" y1="345.70" x2="1045.30" y2="345.70" stroke="#cd4c1c" stroke-width="2.2"/>
<path d="M134.20,326.60 L142.30,327.70 L151.50,328.90 L160.80,330.00 L166.00,330.70 L167.46,330.64 L168.89,330.53 L170.32,330.37 L171.74,330.17 L173.16,329.93 L174.58,329.66 L175.99,329.34 L177.40,328.99 L178.81,328.61 L180.21,328.19 L181.60,327.75 L183.00,327.28 L184.39,326.78 L185.77,326.25 L187.15,325.70 L188.53,325.13 L189.90,324.55 L191.27,323.94 L192.64,323.31 L194.00,322.67 L195.36,322.02 L196.72,321.36 L198.07,320.68 L199.42,320.00 L200.76,319.31 L202.10,318.62 L203.44,317.92 L204.77,317.21 L206.11,316.50 L207.43,315.79 L208.76,315.06 L210.08,314.34 L211.39,313.60 L212.71,312.86 L214.02,312.12 L215.33,311.37 L216.63,310.62 L217.93,309.86 L219.23,309.09 L220.53,308.32 L221.82,307.55 L223.11,306.77 L224.39,305.99 L225.67,305.20 L226.95,304.40 L228.23,303.61 L229.50,302.80 L230.78,302.00 L232.04,301.18 L233.31,300.37 L234.57,299.55 L235.83,298.72 L237.09,297.89 L238.34,297.06 L239.59,296.22 L240.84,295.38 L242.09,294.53 L243.33,293.68 L244.57,292.83 L245.81,291.97 L247.04,291.11 L248.28,290.25 L249.51,289.38 L250.74,288.51 L251.96,287.63 L253.18,286.75 L254.40,285.87 L255.62,284.98 L256.84,284.09 L258.05,283.20 L259.26,282.31 L260.47,281.41 L261.68,280.50 L262.89,279.60 L264.09,278.69 L265.29,277.78 L266.49,276.87 L267.68,275.95 L268.88,275.03 L270.07,274.11 L271.26,273.18 L272.45,272.26 L273.64,271.33 L274.82,270.39 L276.00,269.46 L277.18,268.52 L278.36,267.58 L279.54,266.64 L280.71,265.70 L281.89,264.75 L283.06,263.80 L284.23,262.85 L285.40,261.90 L286.56,260.95 L287.73,259.99 L288.89,259.03 L290.05,258.07 L291.22,257.11 L292.37,256.15 L293.53,255.18 L294.69,254.22 L295.84,253.25 L297.00,252.28 L298.15,251.31 L299.30,250.34 L300.45,249.37 L301.59,248.40 L302.74,247.42 L303.89,246.45 L305.03,245.47 L306.17,244.49 L307.32,243.51 L308.46,242.54 L309.60,241.56 L310.73,240.57 L311.87,239.59 L313.01,238.61 L314.14,237.63 L315.28,236.64 L316.41,235.65 L317.54,234.67 L318.67,233.68 L319.80,232.69 L320.93,231.70 L322.06,230.71 L323.18,229.72 L324.31,228.73 L325.43,227.74 L326.55,226.74 L327.68,225.75 L328.80,224.76 L329.92,223.76 L331.04,222.76 L332.16,221.77 L333.27,220.77 L334.39,219.77 L335.51,218.77 L336.62,217.77 L337.73,216.77 L338.85,215.76 L339.96,214.76 L341.07,213.76 L342.18,212.75 L343.29,211.75 L344.40,210.74 L345.51,209.74 L346.61,208.73 L347.72,207.72 L348.82,206.71 L349.93,205.70 L351.03,204.69 L352.13,203.68 L353.24,202.67 L354.34,201.66 L355.44,200.65 L356.54,199.63 L357.64,198.62 L358.74,197.60 L359.83,196.59 L360.93,195.57 L362.03,194.56 L363.12,193.54 L364.22,192.52 L365.31,191.50 L366.40,190.48 L367.50,189.46 L368.59,188.44 L369.68,187.42 L370.77,186.40 L371.86,185.38 L372.95,184.36 L374.04,183.33 L375.13,182.31 L376.22,181.29 L377.31,180.26 L378.39,179.24 L379.48,178.21 L380.57,177.19 L381.65,176.16 L382.74,175.13 L383.82,174.10 L384.91,173.08 L385.99,172.05 L387.07,171.02 L388.16,169.99 L389.24,168.96 L390.32,167.93 L391.40,166.90 L392.48,165.86 L393.56,164.83 L394.64,163.80 L395.72,162.77 L396.80,161.73 L397.88,160.70 L398.96,159.67 L400.04,158.63 L401.12,157.60 L402.20,156.56 L403.27,155.53 L404.35,154.49 L405.43,153.45 L406.50,152.42 L407.58,151.38 L408.66,150.34 L409.73,149.30 L410.81,148.27 L411.88,147.23 L412.96,146.19 L414.03,145.15 L415.11,144.11 L416.18,143.07 L417.26,142.03 L418.33,140.99 L419.41,139.95 L420.48,138.91 L421.55,137.87 L422.63,136.83 L423.70,135.79 L424.78,134.74 L425.85,133.70 L426.92,132.66 L427.99,131.62 L429.07,130.57 L430.14,129.53 L431.21,128.49 L432.29,127.44 L433.36,126.40 L434.43,125.36 L435.51,124.31 L436.58,123.27 L437.65,122.22 L438.72,121.18 L439.80,120.13 L440.87,119.09 L441.94,118.04 L443.02,117.00 L444.09,115.95 L445.16,114.91 L446.24,113.86 L447.31,112.82 L448.38,111.77 L449.46,110.72 L450.53,109.68 L451.61,108.63 L452.68,107.58 L453.75,106.54 L454.83,105.49 L455.90,104.45 L456.98,103.40 L458.05,102.35 L459.13,101.31 L460.20,100.26 L461.28,99.21 L462.36,98.16 L463.43,97.12 L464.51,96.07 L465.59,95.02 L466.66,93.98 L467.74,92.93 L468.82,91.88 L469.90,90.84 L470.97,89.79 L472.05,88.74 L473.13,87.70 L474.21,86.65 L475.29,85.60 L476.37,84.56 L477.45,83.51 L478.53,82.46 L479.61,81.42 L480.69,80.37 L481.78,79.32 L482.86,78.28 L483.94,77.23 L485.03,76.19 L486.11,75.14 L487.19,74.09 L488.28,73.05 L489.36,72.00 L490.45,70.96 L491.54,69.91 L492.62,68.87 L493.71,67.82 L494.80,66.78 L495.89,65.73 L496.98,64.69 L498.06,63.64 L499.16,62.60 L500.25,61.56 L501.34,60.51 L502.43,59.47 L503.52,58.43 L504.61,57.38 L505.71,56.34 L506.80,55.30" fill="none" stroke="#cd4c1c" stroke-width="2.3" stroke-linejoin="round"/>
<path d="M677.50,345.70 L678.51,344.59 L679.53,343.48 L680.54,342.36 L681.55,341.25 L682.57,340.14 L683.58,339.03 L684.59,337.92 L685.61,336.81 L686.62,335.70 L687.63,334.59 L688.65,333.48 L689.66,332.37 L690.68,331.27 L691.69,330.16 L692.71,329.05 L693.72,327.94 L694.74,326.84 L695.75,325.73 L696.77,324.62 L697.78,323.52 L698.80,322.41 L699.81,321.30 L700.83,320.20 L701.84,319.09 L702.86,317.99 L703.88,316.88 L704.89,315.78 L705.91,314.67 L706.92,313.57 L707.94,312.47 L708.96,311.36 L709.97,310.26 L710.99,309.16 L712.01,308.05 L713.02,306.95 L714.04,305.85 L715.05,304.74 L716.07,303.64 L717.09,302.54 L718.10,301.43 L719.12,300.33 L720.14,299.23 L721.15,298.13 L722.17,297.03 L723.19,295.92 L724.20,294.82 L725.22,293.72 L726.23,292.62 L727.25,291.52 L728.27,290.41 L729.28,289.31 L730.30,288.21 L731.32,287.11 L732.33,286.01 L733.35,284.91 L734.36,283.80 L735.38,282.70 L736.40,281.60 L737.41,280.50 L738.43,279.40 L739.44,278.29 L740.46,277.19 L741.47,276.09 L742.49,274.99 L743.50,273.89 L744.52,272.78 L745.53,271.68 L746.55,270.58 L747.56,269.48 L748.58,268.37 L749.59,267.27 L750.61,266.17 L751.62,265.06 L752.64,263.96 L753.65,262.86 L754.66,261.75 L755.68,260.65 L756.69,259.54 L757.70,258.44 L758.72,257.34 L759.73,256.23 L760.74,255.13 L761.76,254.02 L762.77,252.92 L763.78,251.81 L764.79,250.71 L765.81,249.60 L766.82,248.49 L767.83,247.39 L768.84,246.28 L769.85,245.17 L770.86,244.06 L771.87,242.96 L772.88,241.85 L773.89,240.74 L774.90,239.63 L775.91,238.52 L776.92,237.41 L777.93,236.30 L778.94,235.19 L779.95,234.08 L780.96,232.97 L781.96,231.86 L782.97,230.75 L783.98,229.64 L784.99,228.53 L785.99,227.41 L787.00,226.30 L788.01,225.19 L789.01,224.07 L790.02,222.96 L791.02,221.84 L792.03,220.73 L793.03,219.61 L794.04,218.49 L795.04,217.38 L796.05,216.26 L797.05,215.14 L798.05,214.02 L799.05,212.91 L800.06,211.79 L801.06,210.67 L802.06,209.55 L803.06,208.42 L804.06,207.30 L805.06,206.18 L806.06,205.06 L807.06,203.94 L808.06,202.82 L809.06,201.69 L810.06,200.57 L811.06,199.44 L812.06,198.32 L813.06,197.20 L814.06,196.07 L815.06,194.95 L816.05,193.82 L817.05,192.70 L818.05,191.57 L819.05,190.44 L820.04,189.32 L821.04,188.19 L822.04,187.07 L823.03,185.94 L824.03,184.81 L825.03,183.68 L826.02,182.56 L827.02,181.43 L828.01,180.30 L829.01,179.18 L830.00,178.05 L831.00,176.92 L832.00,175.79 L832.99,174.67 L833.99,173.54 L834.98,172.41 L835.97,171.28 L836.97,170.16 L837.96,169.03 L838.96,167.90 L839.95,166.78 L840.95,165.65 L841.94,164.52 L842.94,163.39 L843.93,162.27 L844.93,161.14 L845.92,160.02 L846.91,158.89 L847.91,157.76 L848.90,156.64 L849.90,155.51 L850.89,154.39 L851.89,153.26 L852.88,152.14 L853.88,151.01 L854.87,149.89 L855.87,148.77 L856.86,147.64 L857.85,146.52 L858.85,145.40 L859.84,144.27 L860.84,143.15 L861.83,142.03 L862.83,140.91 L863.83,139.79 L864.82,138.67 L865.82,137.55 L866.81,136.43 L867.81,135.31 L868.80,134.19 L869.80,133.08 L870.80,131.96 L871.79,130.84 L872.79,129.73 L873.79,128.61 L874.78,127.50 L875.78,126.38 L876.78,125.27 L877.78,124.16 L878.77,123.04 L879.77,121.93 L880.77,120.82 L881.77,119.71 L882.77,118.60 L883.77,117.49 L884.77,116.39 L885.77,115.28 L886.77,114.17 L887.77,113.07 L888.77,111.96 L889.77,110.86 L890.78,109.76 L891.78,108.65 L892.78,107.55 L893.79,106.45 L894.80,105.35 L895.81,104.25 L896.82,103.16 L897.83,102.06 L898.84,100.97 L899.85,99.87 L900.87,98.78 L901.88,97.69 L902.90,96.60 L903.92,95.51 L904.94,94.42 L905.97,93.33 L906.99,92.24 L908.02,91.16 L909.05,90.07 L910.09,88.99 L911.12,87.91 L912.16,86.83 L913.20,85.75 L914.24,84.67 L915.28,83.60 L916.33,82.52 L917.38,81.45 L918.43,80.38 L919.49,79.31 L920.55,78.24 L921.61,77.17 L922.67,76.11 L923.74,75.04 L924.81,73.98 L925.89,72.92 L926.97,71.86 L928.05,70.80 L929.13,69.74 L930.22,68.69 L931.31,67.63 L932.41,66.58 L933.51,65.53 L934.61,64.49 L935.72,63.44 L936.83,62.39 L937.95,61.35 L939.07,60.31 L940.19,59.27 L941.32,58.24 L942.46,57.21 L943.60,56.19 L944.74,55.18 L945.89,54.17 L947.05,53.16 L948.21,52.17 L949.38,51.18 L950.55,50.21 L951.73,49.24 L952.91,48.29 L954.10,47.35 L955.30,46.42 L956.51,45.50 L957.72,44.60 L958.94,43.71 L960.16,42.83 L961.40,41.98 L962.64,41.13 L963.89,40.31 L965.14,39.50 L966.41,38.72 L967.68,37.95 L968.96,37.20 L970.25,36.47 L971.55,35.76 L972.85,35.08 L974.17,34.42 L975.50,33.78 L976.83,33.17 L978.17,32.58 L979.53,32.01 L980.89,31.47 L982.26,30.96 L983.65,30.48 L985.04,30.02 L986.44,29.59 L987.85,29.18 L989.27,28.80 L990.70,28.45 L992.13,28.11 L993.57,27.80 L995.02,27.52 L996.48,27.25 L997.94,27.01 L999.41,26.79 L1000.89,26.59 L1002.37,26.41 L1003.85,26.25 L1005.34,26.11 L1006.84,26.10 L1008.33,26.10 L1009.84,26.10 L1011.34,26.10 L1012.85,26.10 L1014.36,26.10 L1015.88,26.10 L1017.39,26.10 L1018.91,26.10 L1020.43,26.10 L1021.95,26.10 L1023.47,26.10 L1025.00,26.10 L1026.52,26.10 L1028.04,26.10 L1029.56,26.10 L1031.08,26.10 L1032.60,26.10 L1034.12,26.10 L1035.63,26.10 L1037.14,26.10 L1038.65,26.11 L1040.16,26.14 L1041.67,26.17 L1043.17,26.18 L1044.66,26.19 L1046.15,26.19 L1047.64,26.17 L1049.12,26.15 L1050.60,26.10" fill="none" stroke="#cd4c1c" stroke-width="2.4" stroke-linejoin="round" stroke-dasharray="3.6 3.0"/>
<path d="M677.50,345.71 L678.83,345.01 L680.16,344.31 L681.48,343.60 L682.80,342.89 L684.11,342.17 L685.43,341.44 L686.73,340.71 L688.04,339.97 L689.34,339.22 L690.63,338.47 L691.92,337.71 L693.21,336.95 L694.50,336.18 L695.78,335.41 L697.06,334.62 L698.33,333.84 L699.60,333.05 L700.87,332.25 L702.13,331.45 L703.39,330.64 L704.65,329.82 L705.90,329.01 L707.15,328.18 L708.40,327.35 L709.64,326.52 L710.88,325.68 L712.12,324.83 L713.35,323.98 L714.58,323.13 L715.81,322.27 L717.03,321.40 L718.25,320.53 L719.46,319.66 L720.68,318.78 L721.89,317.90 L723.09,317.01 L724.30,316.12 L725.50,315.22 L726.69,314.32 L727.89,313.41 L729.08,312.50 L730.27,311.59 L731.45,310.67 L732.63,309.75 L733.81,308.82 L734.99,307.89 L736.16,306.95 L737.33,306.01 L738.50,305.07 L739.66,304.12 L740.82,303.17 L741.98,302.22 L743.14,301.26 L744.29,300.30 L745.44,299.34 L746.58,298.37 L747.73,297.40 L748.87,296.42 L750.01,295.44 L751.14,294.46 L752.27,293.48 L753.40,292.49 L754.53,291.50 L755.66,290.50 L756.78,289.50 L757.90,288.50 L759.02,287.50 L760.13,286.49 L761.24,285.48 L762.35,284.47 L763.46,283.46 L764.56,282.44 L765.66,281.42 L766.76,280.40 L767.86,279.37 L768.95,278.35 L770.04,277.32 L771.13,276.28 L772.22,275.25 L773.30,274.21 L774.39,273.17 L775.47,272.13 L776.54,271.09 L777.62,270.05 L778.69,269.00 L779.76,267.95 L780.83,266.90 L781.90,265.85 L782.96,264.79 L784.02,263.74 L785.08,262.68 L786.14,261.62 L787.20,260.56 L788.25,259.50 L789.30,258.43 L790.35,257.36 L791.40,256.29 L792.44,255.22 L793.49,254.15 L794.53,253.08 L795.57,252.00 L796.60,250.93 L797.64,249.85 L798.67,248.77 L799.71,247.68 L800.74,246.60 L801.76,245.52 L802.79,244.43 L803.81,243.34 L804.84,242.25 L805.86,241.16 L806.88,240.06 L807.89,238.97 L808.91,237.87 L809.92,236.77 L810.93,235.67 L811.94,234.57 L812.95,233.47 L813.96,232.36 L814.97,231.26 L815.97,230.15 L816.97,229.04 L817.97,227.93 L818.97,226.82 L819.97,225.71 L820.97,224.59 L821.96,223.47 L822.95,222.36 L823.95,221.24 L824.94,220.12 L825.93,219.00 L826.91,217.87 L827.90,216.75 L828.88,215.62 L829.87,214.49 L830.85,213.37 L831.83,212.24 L832.81,211.10 L833.79,209.97 L834.77,208.84 L835.74,207.70 L836.72,206.57 L837.69,205.43 L838.67,204.29 L839.64,203.15 L840.61,202.01 L841.58,200.86 L842.54,199.72 L843.51,198.57 L844.48,197.43 L845.44,196.28 L846.41,195.13 L847.37,193.98 L848.33,192.83 L849.29,191.68 L850.25,190.53 L851.21,189.37 L852.17,188.22 L853.13,187.06 L854.09,185.90 L855.04,184.74 L856.00,183.58 L856.95,182.42 L857.91,181.26 L858.86,180.10 L859.81,178.93 L860.76,177.77 L861.71,176.60 L862.66,175.43 L863.61,174.27 L864.56,173.10 L865.51,171.93 L866.46,170.76 L867.40,169.59 L868.35,168.42 L869.30,167.24 L870.24,166.07 L871.19,164.90 L872.13,163.72 L873.08,162.55 L874.02,161.37 L874.96,160.20 L875.90,159.02 L876.85,157.84 L877.79,156.67 L878.73,155.49 L879.67,154.31 L880.61,153.13 L881.55,151.95 L882.49,150.77 L883.43,149.59 L884.37,148.42 L885.31,147.24 L886.25,146.06 L887.19,144.88 L888.13,143.70 L889.07,142.52 L890.01,141.34 L890.95,140.16 L891.88,138.98 L892.82,137.80 L893.76,136.62 L894.70,135.44 L895.64,134.26 L896.58,133.08 L897.51,131.90 L898.45,130.72 L899.39,129.55 L900.33,128.37 L901.27,127.19 L902.21,126.01 L903.15,124.84 L904.09,123.66 L905.03,122.49 L905.97,121.31 L906.91,120.14 L907.85,118.96 L908.79,117.79 L909.73,116.62 L910.67,115.45 L911.61,114.28 L912.55,113.11 L913.49,111.94 L914.43,110.77 L915.38,109.60 L916.32,108.43 L917.26,107.27 L918.21,106.10 L919.15,104.94 L920.10,103.78 L921.04,102.61 L921.99,101.45 L922.93,100.29 L923.88,99.13 L924.83,97.98 L925.77,96.82 L926.72,95.67 L927.67,94.51 L928.62,93.36 L929.57,92.21 L930.53,91.06 L931.48,89.91 L932.43,88.76 L933.38,87.62 L934.34,86.47 L935.29,85.33 L936.25,84.19 L937.21,83.05 L938.16,81.91 L939.12,80.78 L940.08,79.64 L941.04,78.51 L942.00,77.38 L942.96,76.25 L943.93,75.12 L944.89,74.00 L959.00,59.80 L972.50,48.40 L986.50,40.30 L1001.90,35.40 L1017.90,33.30 L1033.80,32.90 L1050.60,33.00" fill="none" stroke="#cd4c1c" stroke-width="2.3" stroke-linejoin="round"/>
<line x1="206.10" y1="106.40" x2="169.80" y2="106.40" stroke="#000" stroke-width="2.4"/>
<path d="M152.10,106.40 L173.60,97.60 L170.30,106.40 L173.60,115.20 Z" fill="#000"/>
<line x1="428.20" y1="154.20" x2="464.60" y2="154.20" stroke="#000" stroke-width="2.4"/>
<path d="M482.30,154.20 L460.80,145.40 L464.10,154.20 L460.80,163.00 Z" fill="#000"/>
<text x="123.10" y="35.75" font-family="Liberation Serif" fill="#0b67b0" font-size="25.6" text-anchor="end">30</text>
<text x="123.10" y="142.80" font-family="Liberation Serif" fill="#0b67b0" font-size="25.6" text-anchor="end">25</text>
<text x="123.10" y="249.85" font-family="Liberation Serif" fill="#0b67b0" font-size="25.6" text-anchor="end">20</text>
<text x="123.10" y="357.15" font-family="Liberation Serif" fill="#0b67b0" font-size="25.6" text-anchor="end">15</text>
<text x="519.60" y="354.35" font-family="Liberation Serif" fill="#cd4c1c" font-size="25.6" text-anchor="start">10</text>
<text x="519.60" y="290.57" font-family="Liberation Serif" fill="#cd4c1c" font-size="25.6" text-anchor="start">15</text>
<text x="519.60" y="226.79" font-family="Liberation Serif" fill="#cd4c1c" font-size="25.6" text-anchor="start">20</text>
<text x="519.60" y="163.01" font-family="Liberation Serif" fill="#cd4c1c" font-size="25.6" text-anchor="start">25</text>
<text x="519.60" y="99.23" font-family="Liberation Serif" fill="#cd4c1c" font-size="25.6" text-anchor="start">30</text>
<text x="519.60" y="35.45" font-family="Liberation Serif" fill="#cd4c1c" font-size="25.6" text-anchor="start">35</text>
<text x="134.10" y="374.90" font-family="Liberation Serif" fill="#000" font-size="25.6" text-anchor="middle">50</text>
<text x="196.30" y="374.90" font-family="Liberation Serif" fill="#000" font-size="25.6" text-anchor="middle">100</text>
<text x="258.50" y="374.90" font-family="Liberation Serif" fill="#000" font-size="25.6" text-anchor="middle">150</text>
<text x="320.70" y="374.90" font-family="Liberation Serif" fill="#000" font-size="25.6" text-anchor="middle">200</text>
<text x="382.90" y="374.90" font-family="Liberation Serif" fill="#000" font-size="25.6" text-anchor="middle">250</text>
<text x="445.10" y="374.90" font-family="Liberation Serif" fill="#000" font-size="25.6" text-anchor="middle">300</text>
<text x="507.30" y="374.90" font-family="Liberation Serif" fill="#000" font-size="25.6" text-anchor="middle">350</text>
<line x1="764.00" y1="90.40" x2="727.70" y2="90.40" stroke="#000" stroke-width="2.4"/>
<path d="M710.00,90.40 L731.50,81.60 L728.20,90.40 L731.50,99.20 Z" fill="#000"/>
<line x1="961.20" y1="95.30" x2="997.40" y2="95.30" stroke="#000" stroke-width="2.4"/>
<path d="M1015.10,95.30 L993.60,86.50 L996.90,95.30 L993.60,104.10 Z" fill="#000"/>
<text x="667.00" y="356.90" font-family="Liberation Serif" fill="#0b67b0" font-size="25.6" text-anchor="end">1</text>
<text x="667.00" y="275.80" font-family="Liberation Serif" fill="#0b67b0" font-size="25.6" text-anchor="end">3</text>
<text x="667.00" y="194.70" font-family="Liberation Serif" fill="#0b67b0" font-size="25.6" text-anchor="end">5</text>
<text x="667.00" y="113.60" font-family="Liberation Serif" fill="#0b67b0" font-size="25.6" text-anchor="end">7</text>
<text x="667.00" y="32.50" font-family="Liberation Serif" fill="#0b67b0" font-size="25.6" text-anchor="end">9</text>
<text x="1060.50" y="351.55" font-family="Liberation Serif" fill="#cd4c1c" font-size="25.6" text-anchor="start">0</text>
<text x="1060.50" y="287.96" font-family="Liberation Serif" fill="#cd4c1c" font-size="25.6" text-anchor="start">0.2</text>
<text x="1060.50" y="224.37" font-family="Liberation Serif" fill="#cd4c1c" font-size="25.6" text-anchor="start">0.4</text>
<text x="1060.50" y="160.78" font-family="Liberation Serif" fill="#cd4c1c" font-size="25.6" text-anchor="start">0.6</text>
<text x="1060.50" y="97.19" font-family="Liberation Serif" fill="#cd4c1c" font-size="25.6" text-anchor="start">0.8</text>
<text x="1060.50" y="33.60" font-family="Liberation Serif" fill="#cd4c1c" font-size="25.6" text-anchor="start">1.0</text>
<text x="676.38" y="371.80" font-family="Liberation Serif" fill="#000" font-size="25.6" text-anchor="middle">0</text>
<text x="738.93" y="371.80" font-family="Liberation Serif" fill="#000" font-size="25.6" text-anchor="middle">0.5</text>
<text x="801.49" y="371.80" font-family="Liberation Serif" fill="#000" font-size="25.6" text-anchor="middle">1.0</text>
<text x="864.05" y="371.80" font-family="Liberation Serif" fill="#000" font-size="25.6" text-anchor="middle">1.5</text>
<text x="926.61" y="371.80" font-family="Liberation Serif" fill="#000" font-size="25.6" text-anchor="middle">2.0</text>
<text x="989.17" y="371.80" font-family="Liberation Serif" fill="#000" font-size="25.6" text-anchor="middle">2.5</text>
<text x="1051.72" y="371.80" font-family="Liberation Serif" fill="#000" font-size="25.6" text-anchor="middle">3.0</text>
<text x="320.80" y="413.90" font-family="Liberation Serif" fill="#000" font-size="29.5" text-anchor="middle"><tspan font-style="italic">x</tspan> (mm)</text>
<text x="866.00" y="413.90" font-family="Liberation Serif" fill="#000" font-size="29.5" text-anchor="middle"><tspan font-style="italic">η</tspan> (mm)</text>
<text x="0.00" y="0.00" font-family="Liberation Serif" fill="#0b67b0" font-size="29.6" text-anchor="middle" transform="translate(69.9,190.3) rotate(-90)">Boundary layer thickness (mm)</text>
<text x="573.50" y="195.80" font-family="Liberation Serif" fill="#cd4c1c" font-size="30" text-anchor="middle" font-style="italic">p</text>
<text x="628.50" y="195.40" font-family="Liberation Serif" fill="#0b67b0" font-size="30" text-anchor="middle" font-style="italic">T</text>
<text x="1121.60" y="198.00" font-family="Liberation Serif" fill="#cd4c1c" font-size="30" text-anchor="middle" font-style="italic">U</text>
<text x="2.50" y="24.30" font-family="Liberation Serif" fill="#000" font-size="30" text-anchor="start">(<tspan font-style="italic">a</tspan>)</text>
<text x="602.00" y="24.30" font-family="Liberation Serif" fill="#000" font-size="30" text-anchor="start">(<tspan font-style="italic">b</tspan>)</text>
</svg>
</body></html>
